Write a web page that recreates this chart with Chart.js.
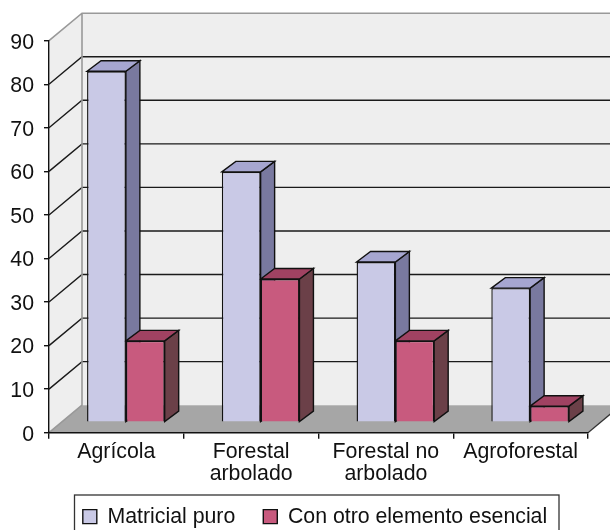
<!DOCTYPE html>
<html>
<head>
<meta charset="utf-8">
<script src="https://cdn.jsdelivr.net/npm/chart.js@4"></script>
<style>
  html, body { margin: 0; padding: 0; background: #fff; }
  canvas { display: block; }
</style>
</head>
<body>
<canvas id="chart" width="610" height="530"></canvas>
<script>
const categories = [['Agrícola'], ['Forestal', 'arbolado'], ['Forestal no', 'arbolado'], ['Agroforestal']];
const matricialPuro = [80.6, 57.5, 36.8, 30.8];
const conOtroElemento = [18.7, 32.9, 18.7, 3.7];
const seriesNames = ['Matricial puro', 'Con otro elemento esencial'];

// depth of the back wall and of the bars, in px
const wallDx = 33, wallDy = -27.5;
const barShiftX = 9.5, barShiftY = -10.4;
const barDx = 14, barDy = -10.5;

const faces = [
  { top: '#a6a6d0', side: '#79799f' },
  { top: '#a04262', side: '#6b4048' }
];

function poly(ctx, pts, fill, stroke, lw) {
  ctx.beginPath();
  pts.forEach((p, i) => i ? ctx.lineTo(p[0], p[1]) : ctx.moveTo(p[0], p[1]));
  ctx.closePath();
  if (fill) { ctx.fillStyle = fill; ctx.fill(); }
  if (stroke) { ctx.strokeStyle = stroke; ctx.lineWidth = lw; ctx.stroke(); }
}

const box3d = {
  id: 'box3d',
  afterLayout(chart) {
    const lg = chart.legend;
    const h = lg.bottom - lg.top;
    lg.left = 11;
    lg.right = 619;
    lg.top = 478;
    lg.bottom = 478 + h;
    // the x labels need more room than the box the layout gave them
    chart.scales.x.bottom = 494;
  },
  beforeDraw(chart) {
    const ctx = chart.ctx;
    const a = chart.chartArea;
    const y = chart.scales.y;
    const l = a.left, r = a.right, t = a.top, b = a.bottom;
    const bl = l + wallDx, bt = t + wallDy, bb = b + wallDy, br = r + wallDx;

    ctx.save();
    poly(ctx, [[l, t], [bl, bt], [br, bt], [br, bb], [bl, bb], [l, b]], '#eeeeee');
    poly(ctx, [[l, b], [bl, bb], [br, bb], [r, b]], '#a6a6a6');

    // grid lines across side wall and back wall
    ctx.strokeStyle = '#1a1a1a';
    ctx.lineWidth = 1.4;
    y.ticks.forEach(tk => {
      if (tk.value === 0 || tk.value === 90) return;
      const py = y.getPixelForValue(tk.value);
      ctx.beginPath();
      ctx.moveTo(l, py);
      ctx.lineTo(bl, py + wallDy);
      ctx.lineTo(br, py + wallDy);
      ctx.stroke();
    });

    ctx.strokeStyle = '#999999';
    ctx.lineWidth = 1.6;
    ctx.beginPath();
    ctx.moveTo(l, t);
    ctx.lineTo(bl, bt);
    ctx.lineTo(br, bt);
    ctx.moveTo(bl, bt);
    ctx.lineTo(bl, bb);
    ctx.lineTo(l, b);
    ctx.stroke();

    ctx.strokeStyle = '#333333';
    ctx.lineWidth = 1.2;
    ctx.beginPath();
    ctx.moveTo(r, b);
    ctx.lineTo(br, bb);
    ctx.stroke();
    ctx.restore();
  },
  beforeDatasetsDraw(chart) {
    const ctx = chart.ctx;
    ctx.save();
    ctx.translate(barShiftX, barShiftY);
    chart.data.datasets.forEach((ds, i) => {
      chart.getDatasetMeta(i).data.forEach(bar => {
        const x0 = bar.x - bar.width / 2, x1 = bar.x + bar.width / 2;
        const top = bar.y, base = bar.base;
        poly(ctx, [[x1, top], [x1 + barDx, top + barDy], [x1 + barDx, base + barDy], [x1, base]], faces[i].side, '#111111', 1.4);
        poly(ctx, [[x0, top], [x0 + barDx, top + barDy], [x1 + barDx, top + barDy], [x1, top]], faces[i].top, '#111111', 1.4);
      });
    });
  },
  afterDatasetsDraw(chart) {
    chart.ctx.restore();
  },
  afterDraw(chart) {
    const ctx = chart.ctx;
    ctx.save();
    ctx.strokeStyle = '#333333';
    ctx.lineWidth = 1.3;
    // legend frame runs past the bottom of the picture
    ctx.strokeRect(74.5, 495, 484.5, 40);
    ctx.restore();
  }
};

const font = { family: '"Liberation Sans", Arial, sans-serif', size: 21.3, lineHeight: 1.06 };

new Chart(document.getElementById('chart').getContext('2d'), {
  type: 'bar',
  plugins: [box3d],
  data: {
    labels: categories,
    datasets: [
      { label: seriesNames[0], data: matricialPuro, backgroundColor: '#c9c9e6', borderColor: '#111111', borderWidth: 1.4, clip: false },
      { label: seriesNames[1], data: conOtroElemento, backgroundColor: '#c85a7e', borderColor: '#111111', borderWidth: 1.4, clip: false }
    ]
  },
  options: {
    responsive: false,
    animation: false,
    datasets: { bar: { categoryPercentage: 0.576, barPercentage: 1 } },
    layout: { padding: { top: 40.7, right: 22, left: 0, bottom: 0 } },
    plugins: {
      tooltip: { enabled: false },
      legend: {
        position: 'bottom',
        labels: { font: font, color: '#111111', boxWidth: 14, boxHeight: 14, padding: 28 }
      }
    },
    scales: {
      x: {
        afterFit(s) { s.height = 38; },
        border: { color: '#111111', width: 1.4 },
        grid: { drawOnChartArea: false, drawTicks: true, tickLength: 6, color: '#111111', lineWidth: 1.4 },
        ticks: { font: font, color: '#111111', maxRotation: 0, minRotation: 0, padding: 2 }
      },
      y: {
        min: 0,
        max: 90,
        afterFit(s) { s.width = 49; },
        border: { color: '#111111', width: 1.4 },
        grid: { drawOnChartArea: false, drawTicks: true, tickLength: 5, color: '#111111', lineWidth: 1.4 },
        ticks: { font: font, color: '#111111', stepSize: 10, padding: 10, labelOffset: 2 }
      }
    }
  }
});
</script>
</body>
</html>
